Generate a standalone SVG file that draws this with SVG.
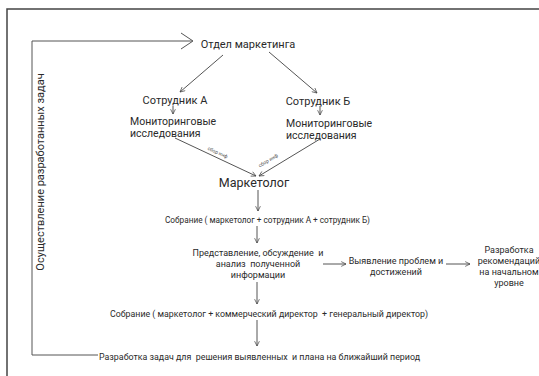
<svg xmlns="http://www.w3.org/2000/svg" width="539" height="376" viewBox="0 0 539 376">
<style>
text{font-family:"Roboto","Liberation Sans",sans-serif;fill:#2a2a2a;white-space:pre}
.l{font-size:11px}
.k{font-size:10.5px}
.m{font-size:9px}
.s{font-size:5px;fill:#555}
.c{stroke:#555;stroke-width:1;fill:none}
.f{stroke:#444;stroke-width:1.5;fill:none}
</style>
<defs>
<marker id="a" viewBox="0 0 10 10" refX="9" refY="5" markerWidth="6" markerHeight="6" orient="auto" markerUnits="userSpaceOnUse">
<path d="M1,1 L9,5 L1,9" fill="none" stroke="#444" stroke-width="1.2"/>
</marker>
</defs>
<rect width="539" height="376" fill="#fff"/>
<g id="frame">
<path class="f" d="M7,376 V9 H539"/>
</g>
<g id="connectors">
<path class="c" d="M98,355 H32 V41 H192"/>
<path class="c" d="M181,33 L193,41 L181,49" stroke-width="1.2"/>
<line class="c" x1="223" y1="55" x2="180" y2="92" marker-end="url(#a)"/>
<line class="c" x1="269" y1="52" x2="317" y2="93" marker-end="url(#a)"/>
<line class="c" x1="173" y1="106" x2="173" y2="114" marker-end="url(#a)"/>
<line class="c" x1="320" y1="106" x2="320" y2="115" marker-end="url(#a)"/>
<line class="c" x1="175" y1="138" x2="256" y2="176" marker-end="url(#a)"/>
<line class="c" x1="320" y1="139" x2="259" y2="176" marker-end="url(#a)"/>
<line class="c" x1="258" y1="190" x2="258" y2="211" marker-end="url(#a)"/>
<line class="c" x1="257" y1="226" x2="257" y2="243" marker-end="url(#a)"/>
<line class="c" x1="323" y1="264" x2="346" y2="264" marker-end="url(#a)"/>
<line class="c" x1="446" y1="264" x2="470" y2="264" marker-end="url(#a)"/>
<line class="c" x1="257" y1="282" x2="257" y2="304" marker-end="url(#a)"/>
<line class="c" x1="257" y1="320" x2="257" y2="346" marker-end="url(#a)"/>
<text class="s" transform="translate(217,154) rotate(25)" text-anchor="middle">сбор инф</text>
<text class="s" transform="translate(269,162) rotate(-31)" text-anchor="middle">сбор инф</text>
</g>
<g id="loop-label">
<text class="l" transform="translate(44,172) rotate(-90)" text-anchor="middle">Осуществление разработанных задач</text>
</g>
<g id="n-otdel"><text class="l" x="248" y="48" text-anchor="middle">Отдел маркетинга</text></g>
<g id="n-sotrA"><text class="l" x="175" y="104" text-anchor="middle">Сотрудник А</text></g>
<g id="n-sotrB"><text class="l" x="318" y="105" text-anchor="middle">Сотрудник Б</text></g>
<g id="n-monA"><text class="k" x="130" y="125">Мониторинговые</text><text class="k" x="130" y="137">исследования</text></g>
<g id="n-monB"><text class="k" x="286" y="127">Мониторинговые</text><text class="k" x="286" y="139">исследования</text></g>
<g id="n-market"><text x="254" y="187" text-anchor="middle" font-size="12.5">Маркетолог</text></g>
<g id="n-sobr1"><text class="m" x="165" y="223" textLength="205" lengthAdjust="spacingAndGlyphs">Собрание ( маркетолог + сотрудник А + сотрудник Б)</text></g>
<g id="n-pred"><text class="m" x="258" y="256" text-anchor="middle">Представление, обсуждение  и</text><text class="m" x="258" y="267" text-anchor="middle">анализ  полученной</text><text class="m" x="258" y="278" text-anchor="middle">информации</text></g>
<g id="n-vyyav"><text class="m" x="396" y="264" text-anchor="middle">Выявление проблем и</text><text class="m" x="396" y="275" text-anchor="middle">достижений</text></g>
<g id="n-razr"><text class="m" x="509" y="253" text-anchor="middle">Разработка</text><text class="m" x="509" y="264" text-anchor="middle">рекомендаций</text><text class="m" x="509" y="275" text-anchor="middle">на начальном</text><text class="m" x="509" y="286" text-anchor="middle">уровне</text></g>
<g id="n-sobr2"><text class="m" x="110" y="317" textLength="318" lengthAdjust="spacingAndGlyphs">Собрание ( маркетолог + коммерческий директор  + генеральный директор)</text></g>
<g id="n-zad"><text class="m" x="99" y="360" textLength="321" lengthAdjust="spacingAndGlyphs">Разработка задач для  решения выявленных  и плана на ближайший период</text></g>
</svg>
